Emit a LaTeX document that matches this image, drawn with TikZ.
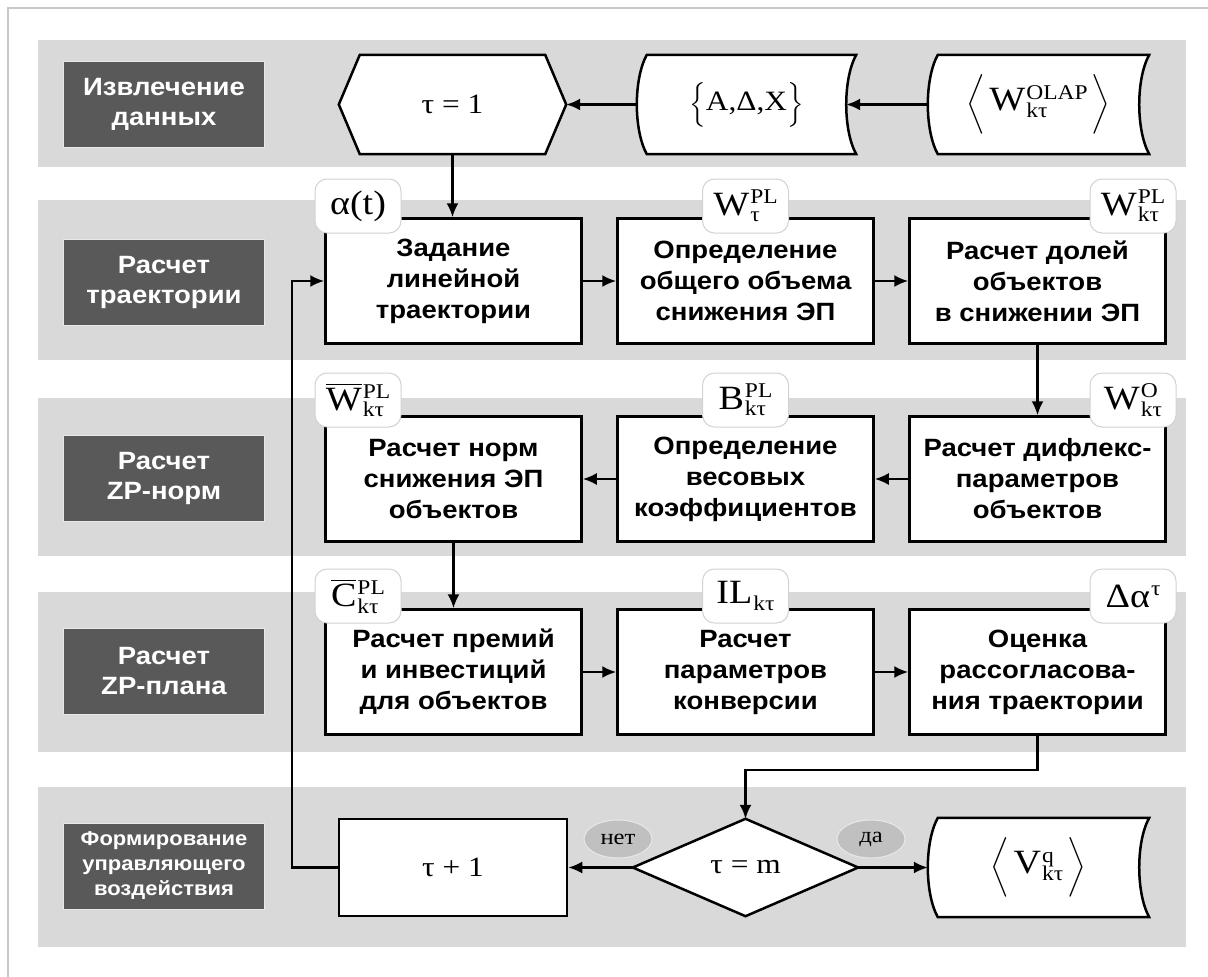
\documentclass[tikz,border=0pt]{standalone}
\usepackage{amsmath}
\usepackage{fontspec}
\setmainfont{Liberation Serif}[FakeStretch=1.12]
\newfontfamily\lsans{Liberation Sans}[FakeStretch=1.1]
\usetikzlibrary{arrows.meta,calc,shapes.geometric}
\pgfdeclarelayer{bands}
\pgfdeclarelayer{shapes}
\pgfsetlayers{bands,shapes,main}
\definecolor{bandgray}{HTML}{D9D9D9}
\definecolor{lblgray}{HTML}{595959}
\definecolor{lblborder}{HTML}{E8E8E8}
\definecolor{framegray}{HTML}{C8C8C8}
\definecolor{tagborder}{HTML}{D2D2D2}
\definecolor{ellgray}{HTML}{C0C0C0}
\newcommand\Scr{\fontsize{21}{21}\selectfont}
\newsavebox\SupBox
\newsavebox\SubBox
\newcommand\StackSS[2]{\sbox\SupBox{\raisebox{0.34em}{\Scr #1}}\sbox\SubBox{\raisebox{-0.2em}{\Scr #2}}%
  \ifdim\wd\SupBox>\wd\SubBox \rlap{\usebox\SubBox}\usebox\SupBox\else\rlap{\usebox\SupBox}\usebox\SubBox\fi}
\newcommand\SupSub[3]{#1\kern1pt\StackSS{#2}{#3}}
\newcommand\BarSupSub[3]{\ensuremath{\overline{\hbox{#1}}}\kern1pt\StackSS{#2}{#3}}
\newcommand\SubOnly[2]{#1\kern1pt\raisebox{-0.2em}{\Scr #2}}
\newcommand\SupOnly[2]{#1\kern1pt\raisebox{0.34em}{\Scr #2}}
\newcommand\StoredOutline[1]{%
  \begin{pgfonlayer}{shapes}
  \filldraw[shp] ($(#1.north west)+(10,0)$) -- (#1.north east)
    .. controls ($(#1.north east)+(-13.3,24)$) and ($(#1.south east)+(-13.3,-24)$) .. (#1.south east)
    -- ($(#1.south west)+(10,0)$)
    .. controls ($(#1.south west)+(-3.3,-24)$) and ($(#1.north west)+(-3.3,24)$) .. cycle;
  \end{pgfonlayer}}
\tikzset{
  lbl/.style={fill=lblgray, draw=lblborder, line width=1pt, text=white,
    font=\lsans\bfseries\fontsize{25}{30}\selectfont, align=center,
    minimum width=201, minimum height=86, inner sep=0},
  proc/.style={draw=black, line width=2.5pt, fill=white, minimum width=256,
    minimum height=125, inner sep=0, align=center,
    font=\lsans\bfseries\fontsize{25}{31}\selectfont},
  shapebox/.style={inner sep=0, font=\fontsize{28}{30}\selectfont},
  bigmath/.style={font=\fontsize{34}{36}\selectfont},
  shp/.style={draw=black, fill=white, line width=2.5pt, line join=miter},
  tagbox/.style={draw=tagborder, fill=white, rounded corners=12pt, line width=1pt,
    minimum width=86, minimum height=54, inner sep=0, font=\fontsize{34}{34}\selectfont},
  ell/.style={ellipse, fill=ellgray, draw=lblborder, line width=1pt,
    minimum width=68, minimum height=38, inner sep=0, font=\fontsize{22}{22}\selectfont},
  arr/.style={line width=2.2pt, -{Latex[length=14pt,width=12pt]}},
}
\begin{document}
\begin{tikzpicture}[x=1pt,y=-1pt]
\useasboundingbox (0,0) rectangle (1208,977);
\begin{pgfonlayer}{bands}
\fill[white] (0,0) rectangle (1208,977);
\draw[framegray, line width=1.5pt] (8,977) -- (8,8) -- (1208,8);
\fill[bandgray] (38,40) rectangle (1186,167);
\fill[bandgray] (38,200) rectangle (1186,360);
\fill[bandgray] (38,398) rectangle (1186,556);
\fill[bandgray] (38,592) rectangle (1186,752);
\fill[bandgray] (38,787) rectangle (1186,947);
\end{pgfonlayer}

% left labels
\node[lbl] (l1) at (164,104) {Извлечение\\данных};
\node[lbl] (l2) at (164,282) {Расчет\\траектории};
\node[lbl] (l3) at (164,478) {Расчет\\ZP-норм};
\node[lbl] (l4) at (164,671) {Расчет\\ZP-плана};
\node[lbl, font=\lsans\bfseries\fontsize{20}{25}\selectfont] (l5) at (164,866) {Формирование\\управляющего\\воздействия};

% row 1
\node[shapebox, minimum width=227, minimum height=99] (hx) at (452.5,104.5) {τ = 1};
\begin{pgfonlayer}{shapes}
\filldraw[shp] (hx.west) -- ($(hx.north west)+(21,0)$) -- ($(hx.north east)+(-21,0)$) -- (hx.east)
  -- ($(hx.south east)+(-21,0)$) -- ($(hx.south west)+(21,0)$) -- cycle;
\end{pgfonlayer}
\node[shapebox, minimum width=219, minimum height=99] (abx) at (746.5,104.5) {\ensuremath{\Bigl\{\hbox{A,Δ,X}\Bigr\}}};
\StoredOutline{abx}
\node[shapebox, bigmath, minimum width=221, minimum height=99] (olap) at (1038.5,104.5) {\ensuremath{\biggl\langle\,\hbox{\SupSub{W}{OLAP}{kτ}}\,\biggr\rangle}};
\StoredOutline{olap}

% row 2
\node[proc] (b21) at (453.5,281) {Задание\\линейной\\траектории};
\node[proc] (b22) at (745.5,281) {Определение\\общего объема\\снижения ЭП};
\node[proc] (b23) at (1037.5,281) {Расчет долей\\объектов\\в снижении ЭП};
% row 3
\node[proc] (b31) at (453.5,479) {Расчет норм\\снижения ЭП\\объектов};
\node[proc] (b32) at (745.5,479) {Определение\\весовых\\коэффициентов};
\node[proc] (b33) at (1037.5,479) {Расчет дифлекс-\\параметров\\объектов};
% row 4
\node[proc] (b41) at (453.5,672) {Расчет премий\\и инвестиций\\для объектов};
\node[proc] (b42) at (745.5,672) {Расчет\\параметров\\конверсии};
\node[proc] (b43) at (1037.5,672) {Оценка\\рассогласова-\\ния траектории};

% row 5
\node[proc, minimum width=228, minimum height=97, font=\fontsize{28}{30}\selectfont] (tp) at (453,867.5) {τ + 1};
\node[shapebox, minimum width=225, minimum height=97] (dia) at (745.5,867.5) {τ = m};
\begin{pgfonlayer}{shapes}
\filldraw[shp] (dia.west) -- (dia.north) -- (dia.east) -- (dia.south) -- cycle;
\end{pgfonlayer}
\node[shapebox, bigmath, minimum width=221, minimum height=99] (vb) at (1038.5,867.5) {\ensuremath{\biggl\langle\,\hbox{\SupSub{V}{q}{kτ}}\,\biggr\rangle}};
\StoredOutline{vb}

% connectors
\draw[arr] (olap.west) -- ($(abx.east)+(-10,0)$);
\draw[arr] (abx.west) -- (hx.east);
\draw[arr] (hx.south) -- (hx.south |- b21.north);
\draw[arr] (b21) -- (b22);
\draw[arr] (b22) -- (b23);
\draw[arr] (b23) -- (b33);
\draw[arr] (b33) -- (b32);
\draw[arr] (b32) -- (b31);
\draw[arr] (b31) -- (b41);
\draw[arr] (b41) -- (b42);
\draw[arr] (b42) -- (b43);
\draw[arr] (b43.south) -- ++(0,34) -| (dia.north);
\draw[arr] (dia.east) -- (vb.west);
\draw[arr] (dia.west) -- (tp.east);
\coordinate (loopx) at (292,500);
\draw[arr] (tp.west) -- (tp.west -| loopx) -- (loopx |- b21.west) -- (b21.west);

% tags
\node[tagbox] (t21) at (358,206) {α(t)};
\node[tagbox] (t22) at (745.5,206) {\SupSub{W}{PL}{τ}};
\node[tagbox] (t23) at (1133,206) {\SupSub{W}{PL}{kτ}};
\node[tagbox] (t31) at (358,400) {\BarSupSub{W}{PL}{kτ}};
\node[tagbox] (t32) at (745.5,400) {\SupSub{B}{PL}{kτ}};
\node[tagbox] (t33) at (1133,400) {\SupSub{W}{O}{kτ}};
\node[tagbox] (t41) at (358,596) {\BarSupSub{C}{PL}{kτ}};
\node[tagbox] (t42) at (745.5,596) {\SubOnly{IL}{kτ}};
\node[tagbox] (t43) at (1133,596) {\SupOnly{Δα}{τ}};

% yes/no labels
\node[ell] (no) at (618,839) {нет};
\node[ell] (yes) at (871,839) {да};
\end{tikzpicture}
\end{document}
